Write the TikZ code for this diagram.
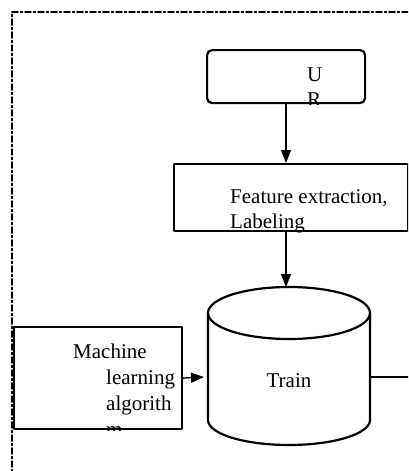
\documentclass[tikz,border=0pt]{standalone}
\usepackage{fontspec}
\setmainfont{Liberation Serif}
\usetikzlibrary{arrows.meta}
\begin{document}
\begin{tikzpicture}[x=1pt,y=-1pt,line cap=round,line join=round,>={Triangle[length=13pt,width=10pt]},
  font=\fontsize{21}{25}\selectfont,
  box/.style={draw,line width=2.2pt,inner sep=0pt,anchor=north west},
  txt/.style={anchor=base west,inner sep=0pt},
  link/.style={->,line width=1.4pt}]
\clip (0,0) rectangle (408,471);
\draw[line width=1.8pt,dash pattern=on 6pt off 2.5pt on 2pt off 2.5pt] (12,480)--(12,12)--(420,12);
% boxes
\node[box,rounded corners=5pt,minimum width=158,minimum height=53] (ur) at (206,49) {};
\node[box,minimum width=234,minimum height=67] (feat) at (173,163) {};
\node[box,minimum width=168,minimum height=102] (ml) at (13,326) {};
% texts, cut off at the box edges
\begin{scope}
\clip (ur.north west) rectangle (ur.south east);
\node[txt] (urA) at (307,81) {U};
\node[txt] (urB) at (307,106) {R};
\end{scope}
\begin{scope}
\clip (feat.north west) rectangle (feat.south east);
\node[txt] (featA) at (230,203) {Feature extraction,};
\node[txt] (featB) at (230,228) {Labeling};
\end{scope}
\begin{scope}
\clip (ml.north west) rectangle (ml.south east);
\node[txt] (mlA) at (73,358) {Machine};
\node[txt] (mlB) at (106,384) {learning};
\node[txt] (mlC) at (106,410) {algorith};
\node[txt] (mlD) at (106,436) {m};
\end{scope}
% cylinder
\draw[line width=2.2pt] (289,313) ellipse[x radius=81,y radius=26];
\draw[line width=2.2pt] (208,313)--(208,420) arc[start angle=180,end angle=0,x radius=81,y radius=25]--(370,313);
\node[anchor=base,inner sep=0pt] (train) at (289,387) {Train};
\coordinate (cylN) at (286,287);
\coordinate (cylW) at (204,377);
\coordinate (cylE) at (370,377);
\coordinate (exit) at (412,377);
% connectors
\draw[link] (ur.south -| cylN)--(feat.north -| cylN);
\draw[link] (feat.south -| cylN)--(cylN);
\draw[link] (ml.east)--(cylW);
\draw[line width=1.4pt] (cylE)--(exit);
\end{tikzpicture}
\end{document}
